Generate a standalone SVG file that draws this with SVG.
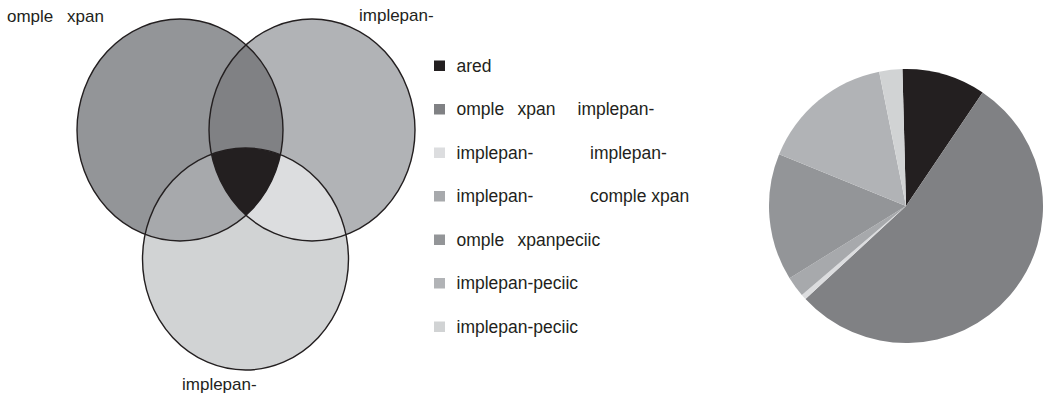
<svg xmlns="http://www.w3.org/2000/svg" width="1048" height="404" viewBox="0 0 1048 404">
  <style>
    text { font-family: "Liberation Sans", Arial, sans-serif; font-size: 17px; fill: #231f20; }
    #legend text { font-size: 17.5px; }
    .outline { fill: none; stroke: #231f20; stroke-width: 1.4; }
    .sw { width: 11px; height: 10.5px; }
  </style>
  <defs>
    <ellipse id="ellA" cx="180" cy="130" rx="103" ry="111"/>
    <ellipse id="ellB" cx="312" cy="130" rx="103" ry="111"/>
    <ellipse id="ellC" cx="245.5" cy="259" rx="103" ry="111"/>
    <clipPath id="clipA"><use href="#ellA"/></clipPath>
    <clipPath id="clipB"><use href="#ellB"/></clipPath>
  </defs>

  <rect width="1048" height="404" fill="#ffffff"/>

  <!-- three-set Venn diagram -->
  <g id="venn">
    <use href="#ellA" fill="#939598"/>
    <use href="#ellB" fill="#b1b3b6"/>
    <use href="#ellC" fill="#d1d3d4"/>
    <!-- pairwise overlaps -->
    <g clip-path="url(#clipA)"><use href="#ellB" fill="#808184"/></g>
    <g clip-path="url(#clipA)"><use href="#ellC" fill="#a7a9ac"/></g>
    <g clip-path="url(#clipB)"><use href="#ellC" fill="#dcdddf"/></g>
    <!-- centre: all three -->
    <g clip-path="url(#clipA)"><g clip-path="url(#clipB)"><use href="#ellC" fill="#231f20"/></g></g>
    <use href="#ellA" class="outline"/>
    <use href="#ellB" class="outline"/>
    <use href="#ellC" class="outline"/>
  </g>

  <g id="venn-labels">
    <text x="7" y="22">omple<tspan x="67">xpan</tspan></text>
    <text x="359" y="21">implepan-</text>
    <text x="182" y="390">implepan-</text>
  </g>

  <!-- legend -->
  <g id="legend">
    <g id="leg-1"><rect x="434" y="60.5" class="sw" fill="#231f20"/><text x="456.5" y="71.5">ared</text></g>
    <g id="leg-2"><rect x="434" y="104" class="sw" fill="#808184"/><text x="456.5" y="115">omple<tspan x="517.5">xpan</tspan><tspan x="577.5">implepan-</tspan></text></g>
    <g id="leg-3"><rect x="434" y="147.5" class="sw" fill="#dcdddf"/><text x="456.5" y="158.5">implepan-<tspan x="590">implepan-</tspan></text></g>
    <g id="leg-4"><rect x="434" y="191" class="sw" fill="#a7a9ac"/><text x="456.5" y="202">implepan-<tspan x="590">comple xpan</tspan></text></g>
    <g id="leg-5"><rect x="434" y="234.5" class="sw" fill="#939598"/><text x="456.5" y="245.5">omple<tspan x="517.5">xpanpeciic</tspan></text></g>
    <g id="leg-6"><rect x="434" y="278" class="sw" fill="#b1b3b6"/><text x="456.5" y="289">implepan-peciic</text></g>
    <g id="leg-7"><rect x="434" y="321.5" class="sw" fill="#d1d3d4"/><text x="456.5" y="332.5">implepan-peciic</text></g>
  </g>

  <!-- pie chart, centre (906,206), r 137 -->
  <g id="pie">
    <path d="M906,206 L902.41,69.05 A137,137 0 0 1 982.61,92.43 Z" fill="#231f20"/>
    <path d="M906,206 L982.61,92.43 A137,137 0 1 1 805.48,299.08 Z" fill="#808184"/>
    <path d="M906,206 L805.48,299.08 A137,137 0 0 1 801.83,294.97 Z" fill="#dcdddf"/>
    <path d="M906,206 L801.83,294.97 A137,137 0 0 1 789.56,278.20 Z" fill="#a7a9ac"/>
    <path d="M906,206 L789.56,278.20 A137,137 0 0 1 779.15,154.24 Z" fill="#939598"/>
    <path d="M906,206 L779.15,154.24 A137,137 0 0 1 879.16,71.66 Z" fill="#b1b3b6"/>
    <path d="M906,206 L879.16,71.66 A137,137 0 0 1 902.41,69.05 Z" fill="#d1d3d4"/>
  </g>
</svg>
